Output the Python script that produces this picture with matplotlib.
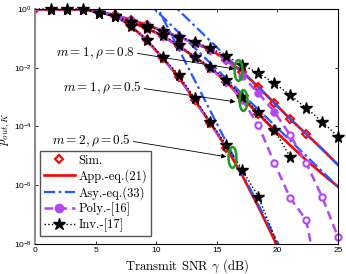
import matplotlib
matplotlib.use("Agg")
import matplotlib.pyplot as plt
from matplotlib.path import Path
from matplotlib.lines import Line2D

# === Data ===
snr = [0.0, 1.32, 2.63, 3.95, 5.26, 6.58, 7.89, 9.21, 10.53, 11.84,
       13.16, 14.47, 15.79, 17.11, 18.42, 19.74, 21.05, 22.37, 23.68, 25.0]

# App.-eq.(21)
app_g1 = [0.99, 0.99, 0.99, 0.98, 0.79, 0.63, 0.43, 0.29, 0.178, 0.112,
          0.069, 0.041, 0.0186, 0.0072, 2.24e-3, 6.3e-4, 1.82e-4, 5.6e-5, 1.74e-5, 4.9e-6]
app_g2 = [0.99, 0.99, 0.99, 0.98, 0.79, 0.58, 0.36, 0.22, 0.12, 0.055,
          0.0234, 0.0098, 3.3e-3, 9.3e-4, 2.7e-4, 7.6e-5, 2.3e-5, 7.2e-6, 2.5e-6, 8.9e-7]
app_g3 = [0.99, 0.99, 0.99, 0.98, 0.78, 0.60, 0.27, 0.089, 0.021, 4.9e-3,
          7.9e-4, 1.3e-4, 1.9e-5, 2.1e-6, 1.9e-7, 1.4e-8, 6e-10]

# Sim.
sim_g1 = [0.99, 0.99, 0.99, 0.98, 0.79, 0.63, 0.43, 0.29, 0.178, 0.112,
          0.069, 0.041, 0.0186, 0.0072, 2.24e-3, 6.3e-4, 1.82e-4, 5.6e-5]
sim_g2 = [0.99, 0.99, 0.99, 0.98, 0.79, 0.58, 0.36, 0.22, 0.12, 0.055,
          0.0234, 0.0098, 3.3e-3, 9.3e-4, 2.7e-4, 7.6e-5]
sim_g3 = [0.99, 0.99, 0.99, 0.98, 0.78, 0.60, 0.27, 0.089, 0.021, 4.9e-3,
          7.9e-4, 1.3e-4, 1.9e-5]

# Asy.-eq.(33)
asy_g1_snr = [10.0, 25.0]
asy_g1 = [5.0, 4.9e-6]
asy_g2_snr = [9.0, 25.0]
asy_g2 = [2.2, 8.9e-7]
asy_g3_snr = [9.0, 20.5]
asy_g3 = [8.7, 4.6e-9]

# Poly.-[16]
poly_g1 = [0.99, 0.99, 0.99, 0.98, 0.79, 0.63, 0.43, 0.29, 0.178, 0.112,
           0.069, 0.041, 0.0186, 5.2e-3, 1.38e-3, 3.2e-4, 5.1e-5, 5.8e-6, 4.1e-7, 1.74e-8]
poly_g2 = [0.99, 0.99, 0.99, 0.98, 0.79, 0.58, 0.36, 0.22, 0.12, 0.055,
           0.0234, 0.0098, 3.3e-3, 7.9e-4, 1.12e-4, 5.8e-6, 3.7e-7, 6.6e-8, 1.3e-10]
poly_g3 = [0.99, 0.99, 0.99, 0.98, 0.78, 0.60, 0.27, 0.089, 0.021, 4.9e-3,
           7.9e-4, 1.3e-4, 1.9e-5]
poly_g1_filled = 16   # later points drawn with open markers
poly_g2_filled = 14
poly_g3_filled = 6

# Inv.-[17]
inv_g1 = [1.0, 1.0, 1.0, 1.0, 0.72, 0.58, 0.36, 0.26, 0.178, 0.112,
          0.076, 0.047, 0.025, 0.0126, 6.6e-3, 3.0e-3, 1.17e-3, 4.3e-4, 1.45e-4, 4.5e-5]
inv_g2 = [1.0, 1.0, 1.0, 1.0, 0.72, 0.58, 0.36, 0.22, 0.13, 0.060,
          0.0234, 0.0107, 3.9e-3, 1.02e-3, 3.2e-4, 7.6e-5, 9.3e-6]
inv_g3 = [1.0, 1.0, 1.0, 1.0, 0.72, 0.58, 0.26, 0.089, 0.0234, 5.8e-3,
          9.3e-4, 1.45e-4, 2.3e-5, 3.3e-6, 4.1e-7, 1.9e-8, 6.3e-10]
inv_g3_last_star = 14

# labels / ellipse spots (dB, p)
group_labels = [r"$m = 1, \rho = 0.8$", r"$m = 1, \rho = 0.5$", r"$m = 2, \rho = 0.5$"]
label_pos = [(4.96, 0.032), (5.54, 2.0e-3), (4.63, 3.2e-5)]
arrow_tip = [(16.45, 9.1e-3), (16.53, 6.9e-4), (15.79, 9.3e-6)]
ellipse_pos = [(16.78, 8.5e-3), (17.19, 7.9e-4), (16.28, 9.3e-6)]

# === Style ===
plt.rcParams["font.family"] = "Liberation Sans"
plt.rcParams["mathtext.fontset"] = "cm"
red = "#ff0000"
blue = "#2458ff"
purple = "#b347f5"
green = "#1f9a1f"
dashdot = (0, (5, 1.6, 1.2, 1.6))
dashed = (0, (3.5, 2.0))

fig = plt.figure(figsize=(3.46, 2.74), dpi=100)
ax = fig.add_axes([0.1012, 0.1095, 0.8757, 0.8577])

# === Sim. ===
for s in [sim_g1, sim_g2, sim_g3]:
    ax.plot(snr[:len(s)], s, ls="none", marker="D", ms=4, mfc="none",
            mec=red, mew=1.5)

# === App. ===
for a in [app_g1, app_g2, app_g3]:
    ax.plot(snr[:len(a)], a, color=red, lw=1.9)

# === Asy. ===
for xs, a in [(asy_g1_snr, asy_g1), (asy_g2_snr, asy_g2), (asy_g3_snr, asy_g3)]:
    ax.plot(xs, a, color=blue, lw=1.6, ls=dashdot)

# === Poly. ===
for pl, nf in [(poly_g1, poly_g1_filled), (poly_g2, poly_g2_filled), (poly_g3, poly_g3_filled)]:
    xs = snr[:len(pl)]
    ax.plot(xs, pl, color=purple, lw=1.8, ls=dashed)
    ax.plot(xs[1:nf], pl[1:nf], ls="none", marker="o", ms=5, mfc=purple, mec=purple)
    if pl is not poly_g3:
        ax.plot(xs[nf:], pl[nf:], ls="none", marker="o", ms=4.5, mfc="white",
                mec=purple, mew=1.5, clip_on=False)

# === Inv. ===
ax.plot(snr[:len(inv_g1)], inv_g1, color="k", lw=1, ls=":", marker="*", ms=8.5,
        markevery=slice(1, None), clip_on=False)
ax.plot(snr[:len(inv_g2)], inv_g2, color="k", lw=1, ls=":", marker="*", ms=8.5,
        markevery=slice(1, None))
ax.plot(snr[:len(inv_g3)], inv_g3, color="k", lw=1, ls=":", marker="*", ms=8.5,
        markevery=slice(1, inv_g3_last_star + 1))

# === Green ellipses ===
circ = Path.unit_circle()
ell = Path(circ.vertices * [0.38, 1.0], circ.codes)
for ex, ey in ellipse_pos:
    ax.plot([ex], [ey], ls="none", marker=ell, ms=15, mfc="none", mec=green, mew=1.8)

# === Annotations ===
for txt, pos, tip in zip(group_labels, label_pos, arrow_tip):
    ax.annotate(txt, xy=tip, xytext=pos, ha="center", va="center", fontsize=9.5,
                arrowprops=dict(arrowstyle="-|>", color="k", lw=0.6, mutation_scale=7,
                                relpos=(1, 0.5), shrinkA=0, shrinkB=0))

# === Axes ===
ax.set_yscale("log")
ax.set_xlim(0, 25)
ax.set_ylim(1e-8, 1)
ax.set_xticks([0, 5, 10, 15, 20, 25])
ax.set_yticks([1e0, 1e-2, 1e-4, 1e-6, 1e-8])
ax.set_yticklabels([r"$\mathdefault{10^{0}}$", r"$\mathdefault{10^{-2}}$",
                    r"$\mathdefault{10^{-4}}$", r"$\mathdefault{10^{-6}}$",
                    r"$\mathdefault{10^{-8}}$"])
ax.minorticks_off()
ax.tick_params(direction="in", top=True, right=True, length=2.5, width=0.6,
               labelsize=6, pad=2.5)
for sp in ["top", "right", "bottom"]:
    ax.spines[sp].set_linewidth(0.8)
ax.spines["left"].set_color("#8c8c8c")
ax.spines["left"].set_linewidth(1.5)

ax.set_xlabel(r"Transmit SNR $\gamma$ (dB)", family="cmr10", fontsize=9.2)
ax.xaxis.set_label_coords(0.5, -0.055)
ax.set_ylabel(r"$p_{out,K}$", fontsize=9.2)
ax.yaxis.set_label_coords(-0.075, 0.49)

# === Legend ===
handles = [
    Line2D([], [], ls="none", marker="D", ms=4, mfc="none", mec=red, mew=1.5),
    Line2D([], [], color=red, lw=1.9),
    Line2D([], [], color=blue, lw=1.6, ls=dashdot),
    Line2D([], [], color=purple, lw=1.8, ls=dashed, marker="o", ms=6, mfc=purple),
    Line2D([], [], color="k", lw=1, ls=":", marker="*", ms=9),
]
labels = ["Sim.", "App.-eq.(21)", "Asy.-eq.(33)", "Poly.-[16]", "Inv.-[17]"]
leg = ax.legend(handles, labels, loc="lower left", bbox_to_anchor=(0.016, 0.034),
                prop={"family": "cmr10", "size": 9}, fancybox=False, framealpha=1,
                edgecolor="#555555", borderpad=0.3, labelspacing=0.22,
                handlelength=2.5, handletextpad=0.3, borderaxespad=0)
leg.get_frame().set_linewidth(1.0)

fig.savefig("out.png", dpi=100)
